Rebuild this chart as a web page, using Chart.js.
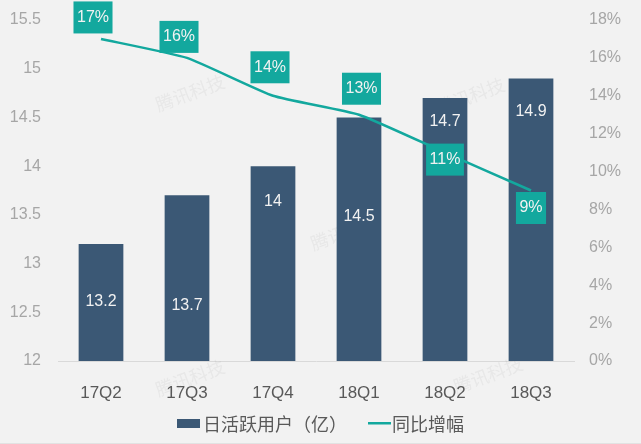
<!DOCTYPE html>
<html>
<head>
<meta charset="utf-8">
<style>
  html, body { margin: 0; padding: 0; background: #f2f2f2; }
  canvas { display: block; }
</style>
<script src="https://cdn.jsdelivr.net/npm/chart.js@4/dist/chart.umd.min.js"></script>
</head>
<body>
<canvas id="dauChart" width="641" height="444"></canvas>
<script>
const quarters = ["17Q2", "17Q3", "17Q4", "18Q1", "18Q2", "18Q3"];
const dauValues = [13.2, 13.7, 14, 14.5, 14.7, 14.9];
const growthValues = [17, 16, 14, 13, 11, 9];
const dauName = "日活跃用户（亿）";
const growthName = "同比增幅";

// hand placed label offsets, the original labels do not sit on the marks
const barLabelDrop = [58, 110, 35, 99, 24, 33];
const boxOffsetX = [-8, -8, -3, 2.5, 0, 0];
const boxOffsetY = [-21.5, -21, -28.5, -26, 7, 17.5];

const navy = "#3b5875";
const teal = "#13a89e";
const sans = "'Liberation Sans', Arial, sans-serif";

// faint watermark sits behind the bars
const watermarkPlugin = {
  id: "watermarkPlugin",
  beforeDatasetsDraw(chart) {
    const ctx = chart.ctx;
    ctx.save();
    ctx.textAlign = "center";
    ctx.textBaseline = "middle";
    ctx.font = "18px 'Noto Sans CJK SC', sans-serif";
    ctx.fillStyle = "rgba(120, 120, 120, 0.08)";
    [[190, 93], [470, 96], [345, 232], [190, 378], [488, 375]].forEach(([x, y]) => {
      ctx.save();
      ctx.translate(x, y);
      ctx.rotate(-0.35);
      ctx.fillText("腾讯科技", 0, 0);
      ctx.restore();
    });
    ctx.restore();
  },
};

// value labels and the legend, both placed by hand
const labelPlugin = {
  id: "labelPlugin",
  afterDatasetsDraw(chart) {
    const ctx = chart.ctx;
    const bars = chart.getDatasetMeta(0).data;
    const points = chart.getDatasetMeta(1).data;
    ctx.save();
    ctx.textAlign = "center";
    ctx.textBaseline = "middle";

    ctx.font = "16px " + sans;
    ctx.fillStyle = "#f2f2f2";
    bars.forEach((bar, i) => {
      ctx.fillText(String(dauValues[i]), bar.x, bar.y + barLabelDrop[i]);
    });

    points.forEach((pt, i) => {
      const text = growthValues[i] + "%";
      const w = ctx.measureText(text).width + 7;
      const cx = pt.x + boxOffsetX[i];
      const cy = pt.y + boxOffsetY[i];
      ctx.fillStyle = teal;
      ctx.fillRect(cx - w / 2, cy - 16, w, 32);
      ctx.fillStyle = "#f2f2f2";
      ctx.fillText(text, cx, cy);
    });

    // legend
    ctx.textAlign = "left";
    ctx.font = "18px 'Noto Sans CJK SC', sans-serif";
    ctx.fillStyle = navy;
    ctx.fillRect(177, 419, 23, 9);
    ctx.fillStyle = teal;
    ctx.fillRect(368, 422, 23, 2.5);
    ctx.fillStyle = "#595959";
    ctx.fillText(dauName, 203, 424);
    ctx.fillText(growthName, 392, 424);

    // thin line left at the bottom of the screenshot
    ctx.fillStyle = "#e2e2e2";
    ctx.fillRect(0, 443, 641, 1);
    ctx.restore();
  },
};

// fixed side gutters, and no extra room for the half height of the end ticks
const fixSide = (width) => (s) => {
  s.width = width;
  s.paddingTop = 0;
  s.paddingBottom = 0;
};

const ctx = document.getElementById("dauChart").getContext("2d");
new Chart(ctx, {
  type: "bar",
  data: {
    labels: quarters,
    datasets: [
      {
        type: "bar",
        label: dauName,
        data: dauValues,
        backgroundColor: navy,
        yAxisID: "y",
        order: 2,
        barPercentage: 0.52,
        categoryPercentage: 1,
      },
      {
        type: "line",
        label: growthName,
        data: growthValues,
        borderColor: teal,
        backgroundColor: teal,
        borderWidth: 2.5,
        pointRadius: 0,
        tension: 0.15,
        yAxisID: "y1",
        order: 1,
      },
    ],
  },
  options: {
    responsive: false,
    animation: false,
    layout: { padding: { top: 20, bottom: 0, left: 0, right: 0 } },
    scales: {
      x: {
        afterFit: (s) => { s.height = 83; },
        grid: { display: false, drawTicks: false },
        border: { color: "#d9d9d9" },
        ticks: { color: "#595959", font: { size: 17, family: sans }, padding: 22 },
      },
      y: {
        position: "left",
        min: 12,
        max: 15.5,
        afterFit: fixSide(58),
        grid: { display: false, drawTicks: false },
        border: { display: false },
        ticks: {
          stepSize: 0.5,
          color: "#a6a6a6",
          padding: 17,
          font: { size: 16, family: sans },
          callback: (v) => String(v),
        },
      },
      y1: {
        position: "right",
        min: 0,
        max: 18,
        afterFit: fixSide(67),
        grid: { display: false, drawTicks: false },
        border: { display: false },
        ticks: {
          stepSize: 2,
          color: "#a6a6a6",
          padding: 15,
          font: { size: 16, family: sans },
          callback: (v) => v + "%",
        },
      },
    },
    plugins: {
      tooltip: { enabled: false },
      legend: { display: false },
    },
  },
  plugins: [watermarkPlugin, labelPlugin],
});
</script>
</body>
</html>
